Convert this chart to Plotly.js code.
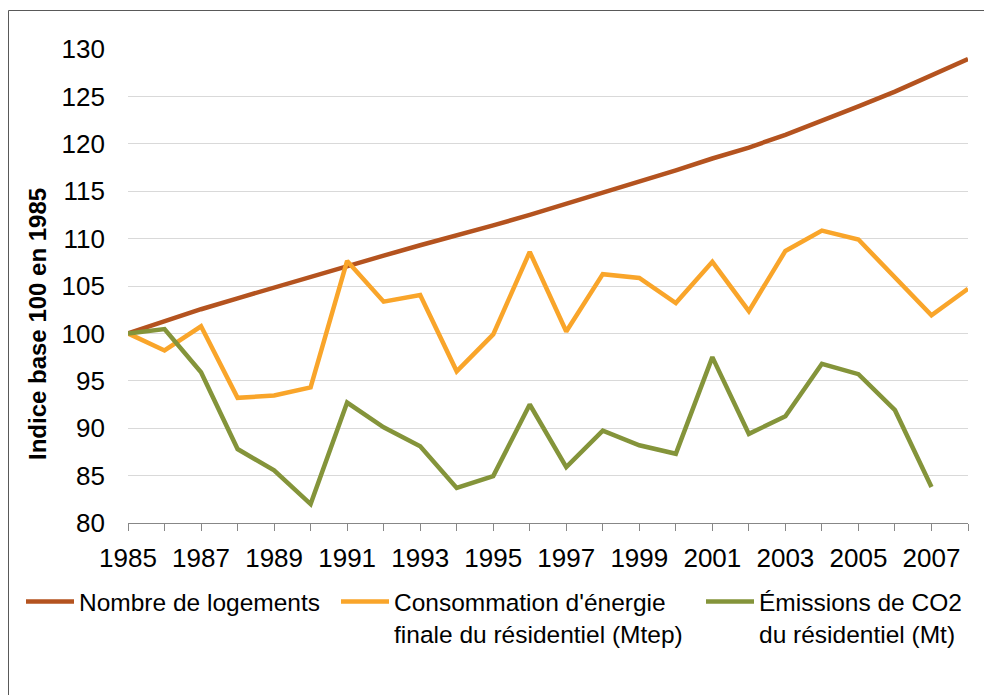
<!DOCTYPE html>
<html>
<head>
<meta charset="utf-8">
<script src="https://cdn.plot.ly/plotly-3.0.1.min.js"></script>
<style>
html, body { margin: 0; padding: 0; background: #ffffff; }
#chart { width: 984px; height: 695px; }
</style>
</head>
<body>
<div id="chart"></div>
<script>
var years = [1985, 1986, 1987, 1988, 1989, 1990, 1991, 1992, 1993, 1994, 1995, 1996,
             1997, 1998, 1999, 2000, 2001, 2002, 2003, 2004, 2005, 2006, 2007, 2008];
var logements = [100, 101.3, 102.55, 103.7, 104.85, 105.95, 107.1, 108.2, 109.3, 110.3, 111.4, 112.5,
                 113.65, 114.8, 116.0, 117.2, 118.45, 119.6, 120.95, 122.4, 123.95, 125.5, 127.25, 128.95];
var consommation = [100, 98.2, 100.75, 93.2, 93.45, 94.3, 107.65, 103.35, 104.05, 96.0, 99.9, 108.6,
                    100.2, 106.25, 105.85, 103.2, 107.55, 102.35, 108.7, 110.85, 109.9, 105.95, 101.9, 104.7];
var emissions = [100, 100.45, 95.9, 87.8, 85.55, 82.0, 92.7, 90.1, 88.1, 83.7, 84.95, 92.5,
                 85.9, 89.75, 88.2, 87.3, 97.5, 89.4, 91.25, 96.8, 95.7, 91.9, 83.8, null];
var seriesNames = ["Nombre de logements",
                   "Consommation d'énergie<br>finale du résidentiel (Mtep)",
                   "Émissions de CO2<br>du résidentiel (Mt)"];
var seriesColors = ["#B4531F", "#F9A52A", "#84943A"];
var yTickVals = [80, 85, 90, 95, 100, 105, 110, 115, 120, 125, 130];
var xTickText = years.map(function (y) { return (y - 1985) % 2 === 0 ? String(y) : ""; });
var yTitle = "Indice base 100 en 1985";

var FONT = "Liberation Sans, Arial, Helvetica, sans-serif";
var L = 128, R = 16, T = 49, B = 172, W = 984, H = 695;
var pw = W - L - R, ph = H - T - B;
function px2x(p) { return (p - L) / pw; }
function px2y(p) { return (H - B - p) / ph; }

var allSeries = [logements, consommation, emissions];
var legendIds = ["legend", "legend2", "legend3"];
var traces = allSeries.map(function (vals, i) {
  return {
    x: years, y: vals, type: "scatter", mode: "lines",
    name: seriesNames[i], legend: legendIds[i],
    line: { color: seriesColors[i], width: 4.5 },
    connectgaps: false, hoverinfo: "x+y"
  };
});

function legendAt(pxLeft) {
  return {
    x: px2x(pxLeft), xanchor: "left", xref: "paper",
    y: px2y(579), yanchor: "top", yref: "paper",
    orientation: "h", valign: "top", itemwidth: 48,
    bgcolor: "rgba(0,0,0,0)", borderwidth: 0,
    font: { family: FONT, size: 24.5, color: "#000000" },
    itemclick: false, itemdoubleclick: false
  };
}

var layout = {
  width: W, height: H,
  margin: { l: L, r: R, t: T, b: B, pad: 0 },
  paper_bgcolor: "#ffffff", plot_bgcolor: "#ffffff",
  font: { family: FONT, size: 24, color: "#000000" },
  showlegend: true,
  legend: legendAt(21),
  legend2: legendAt(336),
  legend3: legendAt(701),
  xaxis: {
    range: [1985, 2008], type: "linear",
    tickmode: "array", tickvals: years, ticktext: xTickText,
    ticks: "outside", ticklen: 7, tickwidth: 1, tickcolor: "#878787",
    showline: true, linecolor: "#878787", linewidth: 1,
    showgrid: false, zeroline: false,
    tickfont: { family: FONT, size: 26, color: "#000000" },
    ticklabelstandoff: 5, fixedrange: true
  },
  yaxis: {
    range: [80, 130], tickmode: "array", tickvals: yTickVals,
    ticks: "", showline: false, zeroline: false,
    showgrid: true, gridcolor: "#d9d9d9", gridwidth: 1,
    tickfont: { family: FONT, size: 26, color: "#000000" },
    ticklabelstandoff: 22, fixedrange: true
  },
  annotations: [{
    text: yTitle, textangle: -90, showarrow: false,
    xref: "paper", yref: "paper", x: px2x(37), y: px2y(324),
    xanchor: "center", yanchor: "middle",
    font: { family: FONT, size: 24, color: "#000000", weight: "bold" }
  }],
  shapes: [{
    type: "rect", xref: "paper", yref: "paper",
    x0: px2x(8.5), x1: px2x(1000), y0: px2y(710), y1: px2y(10.5),
    line: { color: "#595959", width: 1 }, fillcolor: "rgba(0,0,0,0)", layer: "below"
  }]
};

Plotly.newPlot("chart", traces, layout, { staticPlot: true, displayModeBar: false });
</script>
</body>
</html>
